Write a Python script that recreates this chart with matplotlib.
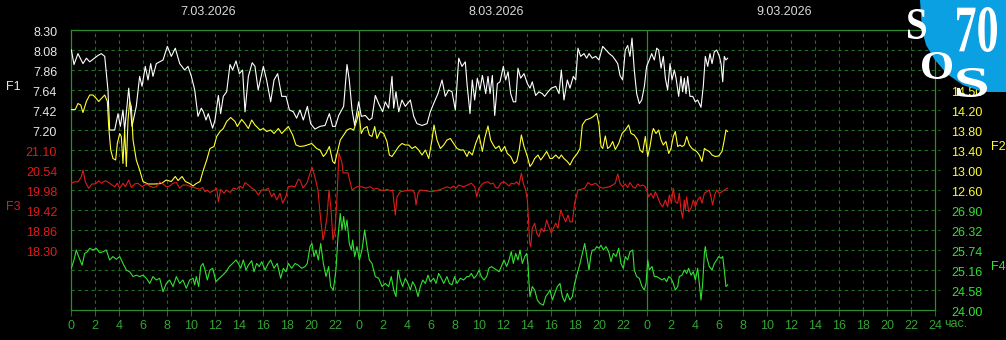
import matplotlib
matplotlib.use("Agg")
import matplotlib.pyplot as plt
from matplotlib.patches import Polygon, PathPatch
from matplotlib.textpath import TextPath
from matplotlib.font_manager import FontProperties
from matplotlib.transforms import Affine2D

# hours counted from 00:00 of 7.03.2026
t1 = [0.03, 0.25, 0.58, 1.0, 1.28, 1.56, 2.25, 2.53, 2.81, 3.08, 3.22, 3.64, 3.92, 4.11, 4.33, 4.47, 4.81, 5.08,
      5.44, 5.72, 5.92, 6.19, 6.42, 6.64, 6.83, 7.11, 7.67, 8.03, 8.36, 8.69, 9.06, 9.47, 9.75, 10.03, 10.31, 10.58,
      10.86, 11.03, 11.25, 11.44, 11.8, 12.0, 12.28, 12.47, 12.69, 12.97, 13.25, 13.47, 13.75, 14.03, 14.3, 14.5,
      14.78, 15.1, 15.33, 15.6, 16.03, 16.3, 16.64, 16.92, 17.22, 17.56, 17.92, 18.2, 18.53, 18.8, 19.08, 19.36,
      19.7, 19.97, 20.33, 20.75, 21.17, 21.53, 21.8, 22.03, 22.31, 22.72, 23.0, 23.19, 23.42, 23.64, 23.97, 24.19,
      24.53, 24.86, 25.08, 25.36, 25.64, 25.97, 26.19, 26.47, 26.75, 26.89, 27.08, 27.31, 27.58, 27.86, 28.28,
      28.56, 28.83, 29.25, 29.67, 29.94, 30.22, 30.58, 30.92, 31.19, 31.47, 31.75, 32.03, 32.31, 32.58, 32.86,
      33.0, 33.25, 33.44, 33.64, 33.86, 34.08, 34.28, 34.56, 34.75, 34.92, 35.11, 35.31, 35.53, 35.75, 36.03,
      36.22, 36.42, 36.64, 36.86, 37.06, 37.25, 37.47, 37.75, 38.03, 38.25, 38.44, 38.72, 39.0, 39.28, 39.47,
      39.75, 40.03, 40.39, 40.67, 40.86, 41.08, 41.36, 41.58, 41.86, 42.06, 42.25, 42.47, 42.75, 42.97, 43.17,
      43.44, 43.72, 44.0, 44.31, 44.58, 44.86, 45.14, 45.36, 45.56, 45.75, 45.97, 46.19, 46.39, 46.58, 46.75,
      46.94, 47.14, 47.36, 47.56, 47.78, 47.97, 48.19, 48.39, 48.61, 48.81, 48.97, 49.17, 49.36, 49.53, 49.72,
      49.92, 50.08, 50.28, 50.42, 50.64, 50.83, 50.97, 51.11, 51.25, 51.39, 51.58, 51.81, 52.03, 52.22, 52.5,
      52.69, 52.86, 53.06, 53.25, 53.42, 53.61, 53.81, 54.03, 54.17, 54.31, 54.44, 54.58, 54.72]
f1 = [8.08, 7.92, 8.04, 7.93, 7.99, 7.95, 8.02, 8.04, 8.01, 7.64, 7.20, 7.20, 7.38, 7.24, 7.42, 7.20, 7.66, 7.24,
      7.46, 7.79, 7.68, 7.90, 7.75, 7.93, 7.79, 7.93, 7.97, 8.12, 8.01, 8.10, 7.93, 7.86, 7.90, 7.79, 7.64, 7.35,
      7.44, 7.40, 7.31, 7.38, 7.22, 7.31, 7.58, 7.38, 7.57, 7.62, 7.92, 7.86, 7.96, 7.82, 7.86, 7.40,
      7.79, 7.94, 7.90, 7.64, 7.90, 7.75, 7.51, 7.75, 7.82, 7.57, 7.57, 7.42, 7.40, 7.33, 7.42, 7.31,
      7.46, 7.27, 7.21, 7.24, 7.25, 7.38, 7.24, 7.24, 7.36, 7.46, 7.92, 7.75, 7.42, 7.25, 7.51, 7.35,
      7.36, 7.31, 7.33, 7.58, 7.49, 7.40, 7.51, 7.44, 7.79, 7.44, 7.62, 7.40, 7.53, 7.46, 7.53,
      7.35, 7.27, 7.25, 7.27, 7.40, 7.49, 7.60, 7.75, 7.57, 7.64, 7.62, 7.42, 7.99, 7.90, 7.95,
      7.71, 7.38, 7.75, 7.53, 7.77, 7.64, 7.80, 7.60, 7.79, 7.60, 7.80, 7.36, 7.71, 7.73, 7.90,
      7.75, 7.84, 7.60, 7.51, 7.51, 7.88, 7.77, 7.82, 7.71, 7.66, 7.73, 7.58, 7.62, 7.60, 7.57,
      7.62, 7.66, 7.68, 7.60, 7.86, 7.53, 7.75, 7.66, 7.79, 7.75, 8.10, 8.01, 8.04, 7.99, 8.04,
      7.99, 8.01, 7.97, 8.12, 8.08, 8.04, 8.01, 7.97, 7.93, 7.80, 7.75, 8.08, 8.13, 8.01, 8.21,
      7.86, 7.60, 7.49, 7.53, 7.68, 7.90, 7.97, 8.04, 7.97, 8.10, 8.08, 7.88, 8.01, 7.77, 7.64,
      7.93, 7.75, 7.86, 7.77, 7.57, 7.79, 7.62, 7.77, 7.60, 7.79, 7.57, 7.57, 7.51, 7.53, 7.45,
      7.68, 8.01, 7.90, 8.04, 7.93, 8.06, 8.08, 8.01, 7.93, 7.73, 8.01, 7.97, 7.99]

t2 = [0.03, 0.36, 0.58, 0.81, 1.0, 1.28, 1.56, 1.83, 2.11, 2.31, 2.53, 2.81, 3.03, 3.14, 3.31, 3.5, 3.72, 3.86,
      4.06, 4.19, 4.33, 4.47, 4.61, 4.75, 4.89, 5.03, 5.17, 5.44, 5.72, 6.0, 6.42, 6.97, 7.53, 7.94, 8.36, 8.69,
      8.92, 9.25, 9.53, 9.89, 10.17, 10.44, 10.75, 11.03, 11.31, 11.58, 11.92, 12.14, 12.42, 12.69, 12.97, 13.31,
      13.67, 13.86, 14.22, 14.5, 14.78, 15.06, 15.33, 15.75, 16.03, 16.31, 16.64, 16.92, 17.28, 17.56, 17.83,
      18.11, 18.47, 18.75, 19.08, 19.42, 19.69, 20.06, 20.47, 20.75, 21.03, 21.25, 21.53, 21.81, 21.97, 22.17,
      22.44, 22.72, 23.0, 23.28, 23.56, 23.83, 23.97, 24.19, 24.39, 24.67, 24.86, 25.08, 25.31, 25.5, 25.78,
      26.06, 26.33, 26.53, 26.75, 27.03, 27.31, 27.58, 27.86, 28.14, 28.42, 28.69, 28.97, 29.25, 29.53, 29.81,
      30.08, 30.25, 30.5, 30.78, 31.06, 31.33, 31.61, 31.89, 32.17, 32.44, 32.72, 33.0, 33.17, 33.44, 33.72,
      34.0, 34.28, 34.47, 34.75, 34.97, 35.19, 35.39, 35.67, 35.86, 36.14, 36.36, 36.64, 36.92, 37.14, 37.33,
      37.53, 37.75, 38.03, 38.25, 38.44, 38.64, 38.92, 39.14, 39.36, 39.64, 39.92, 40.11, 40.39, 40.67, 40.86,
      41.08, 41.36, 41.58, 41.86, 42.19, 42.42, 42.61, 42.89, 43.25, 43.53, 43.81, 44.0, 44.17, 44.31, 44.53,
      44.72, 44.92, 45.14, 45.36, 45.64, 45.92, 46.19, 46.47, 46.67, 46.94, 47.22, 47.42, 47.64, 47.86, 48.06,
      48.25, 48.42, 48.53, 48.75, 48.97, 49.17, 49.36, 49.58, 49.81, 50.0, 50.19, 50.36, 50.56, 50.75, 50.92,
      51.11, 51.31, 51.53, 51.75, 51.94, 52.14, 52.36, 52.58, 52.78, 52.97, 53.19, 53.42, 53.69, 53.97, 54.25,
      54.44, 54.58, 54.72]
f2 = [14.21, 14.21, 14.33, 14.30, 14.15, 14.37, 14.50, 14.50, 14.43, 14.37, 14.43, 14.50, 14.37, 13.87, 13.40,
      13.23, 13.20, 13.53, 13.73, 13.67, 13.13, 13.80, 13.07, 14.00, 14.37, 14.27, 13.60, 13.20, 13.00, 12.77,
      12.72, 12.72, 12.73, 12.80, 12.77, 12.87, 12.79, 12.87, 12.77, 12.73, 12.68, 12.73, 12.77, 13.00, 13.20,
      13.43, 13.47, 13.67, 13.77, 13.83, 13.97, 14.05, 13.97, 13.87, 14.01, 13.93, 13.83, 14.00, 13.90, 13.80,
      13.83, 13.77, 13.80, 13.73, 13.83, 13.73, 13.80, 13.87, 13.70, 13.50, 13.47, 13.48, 13.50, 13.53, 13.43,
      13.40, 13.27, 13.33, 13.47, 13.17, 13.13, 13.33, 13.60, 13.70, 13.80, 13.83, 13.80, 14.00, 14.17, 13.73,
      13.83, 13.87, 13.70, 13.67, 13.87, 13.63, 13.77, 13.73, 13.57, 13.30, 13.27, 13.37, 13.47, 13.53, 13.50,
      13.50, 13.43, 13.47, 13.40, 13.30, 13.40, 13.23, 13.60, 13.90, 13.60, 13.43, 13.50, 13.60, 13.63, 13.53,
      13.43, 13.40, 13.40, 13.27, 13.37, 13.30, 13.53, 13.70, 13.37, 13.63, 13.88, 13.60, 13.50, 13.43, 13.48,
      13.37, 13.47, 13.33, 13.27, 13.13, 13.17, 13.37, 13.70, 13.47, 13.27, 13.07, 13.13, 13.23, 13.30, 13.20,
      13.27, 13.37, 13.23, 13.23, 13.30, 13.23, 13.30, 13.23, 13.17, 13.10, 13.23, 13.33, 13.43, 13.90, 14.00,
      14.03, 14.07, 14.13, 13.90, 13.47, 13.43, 13.68, 13.43, 13.47, 13.57, 13.41, 13.53, 13.73, 13.80, 13.90,
      13.73, 13.70, 13.60, 13.40, 13.35, 13.67, 13.27, 13.47, 13.73, 13.83, 13.73, 13.80, 13.60, 13.50, 13.57,
      13.33, 13.43, 13.67, 13.77, 13.47, 13.50, 13.47, 13.50, 13.67, 13.50, 13.43, 13.40, 13.37, 13.30, 13.17,
      13.43, 13.40, 13.37, 13.30, 13.27, 13.28, 13.37, 13.60, 13.80, 13.77]

t3 = [0.03, 0.31, 0.58, 0.86, 1.0, 1.19, 1.47, 1.75, 2.03, 2.31, 2.53, 2.86, 3.14, 3.42, 3.64, 3.86, 4.06, 4.33,
      4.53, 4.81, 5.03, 5.31, 5.58, 5.92, 6.28, 6.56, 6.83, 7.11, 7.39, 7.67, 7.94, 8.22, 8.5, 8.78, 9.06, 9.33,
      9.61, 10.03, 10.44, 10.75, 10.97, 11.17, 11.36, 11.58, 11.86, 12.14, 12.28, 12.47, 12.75, 12.97, 13.25,
      13.53, 13.81, 14.08, 14.31, 14.5, 14.78, 15.06, 15.33, 15.61, 15.89, 16.17, 16.44, 16.72, 16.92, 17.14,
      17.42, 17.64, 17.92, 18.11, 18.39, 18.67, 18.94, 19.08, 19.33, 19.67, 20.08, 20.33, 20.58, 20.75, 21.0,
      21.17, 21.33, 21.5, 21.67, 21.83, 22.0, 22.17, 22.33, 22.58, 22.67, 23.08, 23.42, 23.67, 23.83, 24.25,
      24.53, 24.94, 25.22, 25.5, 25.78, 26.06, 26.33, 26.61, 26.81, 26.92, 27.03, 27.17, 27.44, 27.86, 28.42,
      28.64, 28.75, 28.92, 29.11, 29.53, 30.08, 30.64, 31.06, 31.33, 31.61, 31.89, 32.08, 32.31, 32.72, 33.03,
      33.36, 33.64, 33.81, 34.0, 34.28, 34.47, 34.75, 34.97, 35.19, 35.39, 35.58, 35.81, 36.08, 36.31, 36.5,
      36.69, 36.92, 37.14, 37.33, 37.53, 37.69, 37.89, 38.03, 38.14, 38.22, 38.31, 38.44, 38.64, 38.81, 39.0,
      39.19, 39.42, 39.64, 39.83, 40.03, 40.19, 40.39, 40.58, 40.81, 41.03, 41.22, 41.42, 41.58, 41.78, 41.97,
      42.25, 42.53, 42.81, 43.08, 43.36, 43.72, 44.03, 44.31, 44.58, 44.86, 45.14, 45.36, 45.56, 45.75, 45.97,
      46.19, 46.39, 46.58, 46.81, 47.03, 47.22, 47.42, 47.64, 47.86, 47.97, 48.14, 48.33, 48.53, 48.69, 48.89,
      49.08, 49.31, 49.53, 49.72, 49.86, 50.03, 50.19, 50.36, 50.56, 50.69, 50.83, 50.97, 51.11, 51.19, 51.31,
      51.47, 51.67, 51.86, 52.03, 52.22, 52.42, 52.58, 52.78, 52.97, 53.19, 53.33, 53.47, 53.64, 53.81, 54.03,
      54.25, 54.53, 54.72]
f3 = [20.17, 20.21, 20.21, 20.35, 20.54, 20.21, 20.03, 20.15, 20.15, 20.24, 20.17, 20.24, 20.19, 20.12, 20.07,
      20.17, 20.03, 20.17, 20.07, 20.26, 20.05, 20.15, 20.17, 20.07, 20.15, 20.09, 20.05, 20.07, 20.21, 20.15,
      20.07, 20.09, 20.17, 20.19, 20.03, 20.12, 20.12, 20.07, 20.03, 20.00, 20.05, 19.93, 19.98, 19.91, 19.96,
      20.03, 19.65, 20.00, 19.89, 19.98, 19.91, 20.03, 20.00, 20.09, 20.03, 20.19, 20.12, 20.03, 19.98, 19.84,
      19.98, 19.98, 20.03, 19.79, 19.89, 19.70, 19.89, 19.61, 19.81, 20.07, 20.09, 20.07, 20.28, 20.26, 20.04,
      20.18, 20.62, 20.34, 19.98, 19.34, 18.58, 18.86, 19.22, 19.98, 19.42, 18.58, 18.86, 19.78, 21.02, 20.74,
      20.46, 20.46, 19.98, 20.04, 20.07, 20.07, 20.03, 20.07, 20.00, 20.03, 19.98, 19.96, 20.00, 19.96, 19.98,
      19.61, 19.28, 19.79, 19.93, 19.96, 19.98, 19.89, 19.56, 19.89, 19.98, 19.96, 19.93, 19.98, 20.03, 20.07,
      20.03, 20.09, 20.03, 20.12, 20.07, 20.12, 20.17, 20.07, 19.79, 20.03, 20.15, 20.19, 20.21, 20.15, 20.17,
      20.05, 20.03, 20.17, 20.21, 20.15, 20.09, 20.17, 20.15, 20.21, 20.12, 20.45, 20.17, 19.98, 19.70, 19.05,
      18.49, 18.39, 18.91, 19.05, 18.77, 18.67, 18.91, 18.81, 19.14, 18.95, 18.77, 18.91, 19.05, 18.91, 19.42,
      19.23, 19.09, 19.28, 19.09, 19.09, 19.61, 19.98, 20.00, 20.03, 20.19, 20.12, 20.17, 20.07, 20.03, 20.05,
      20.07, 20.12, 20.17, 20.43, 20.17, 20.07, 20.15, 20.05, 20.19, 20.07, 20.03, 20.15, 20.09, 20.12, 20.07,
      19.98, 19.79, 19.89, 19.75, 19.93, 19.79, 19.61, 19.51, 19.70, 19.51, 19.84, 19.61, 20.03, 19.65, 19.61,
      19.89, 19.42, 19.19, 19.70, 19.42, 19.79, 19.37, 19.47, 19.70, 19.51, 19.70, 19.79, 19.61, 19.89, 19.93,
      19.98, 19.79, 19.56, 19.84, 19.98, 19.89, 19.93, 20.00, 20.03]

t4 = [0.03, 0.25, 0.44, 0.64, 0.92, 1.14, 1.36, 1.56, 1.83, 2.11, 2.39, 2.67, 2.94, 3.22, 3.5, 3.78, 4.06, 4.33,
      4.61, 4.89, 5.17, 5.44, 5.72, 6.0, 6.28, 6.56, 6.83, 7.11, 7.39, 7.67, 7.94, 8.22, 8.5, 8.78, 9.06, 9.33,
      9.61, 9.89, 10.17, 10.31, 10.44, 10.64, 10.81, 11.0, 11.17, 11.36, 11.58, 11.81, 12.08, 12.36, 12.64,
      12.92, 13.19, 13.47, 13.75, 13.94, 14.14, 14.36, 14.58, 14.78, 15.06, 15.25, 15.47, 15.69, 15.89, 16.17,
      16.44, 16.64, 16.92, 17.19, 17.47, 17.69, 17.92, 18.11, 18.39, 18.67, 18.94, 19.22, 19.5, 19.69, 19.92,
      20.08, 20.25, 20.42, 20.61, 20.81, 21.03, 21.25, 21.47, 21.64, 21.86, 22.08, 22.25, 22.44, 22.58, 22.72,
      22.86, 23.0, 23.19, 23.36, 23.47, 23.64, 23.83, 24.03, 24.25, 24.47, 24.67, 24.86, 25.08, 25.36, 25.64,
      25.92, 26.19, 26.47, 26.69, 26.89, 27.08, 27.25, 27.44, 27.64, 27.86, 28.08, 28.28, 28.47, 28.69, 28.92,
      29.11, 29.31, 29.53, 29.75, 29.94, 30.22, 30.42, 30.64, 30.86, 31.06, 31.33, 31.53, 31.75, 31.97, 32.17,
      32.44, 32.72, 33.0, 33.17, 33.36, 33.58, 33.81, 34.0, 34.19, 34.42, 34.64, 34.83, 35.03, 35.25, 35.47,
      35.67, 35.86, 36.08, 36.31, 36.5, 36.69, 36.86, 37.06, 37.25, 37.42, 37.61, 37.81, 37.97, 38.08, 38.17,
      38.25, 38.44, 38.64, 38.86, 39.08, 39.36, 39.56, 39.75, 39.92, 40.11, 40.31, 40.53, 40.75, 40.94, 41.14,
      41.36, 41.58, 41.78, 41.97, 42.19, 42.42, 42.61, 42.81, 43.03, 43.17, 43.31, 43.44, 43.64, 43.81, 44.0,
      44.17, 44.36, 44.58, 44.81, 45.0, 45.19, 45.42, 45.64, 45.83, 46.03, 46.19, 46.39, 46.58, 46.81, 46.94,
      47.14, 47.36, 47.58, 47.78, 47.92, 48.06, 48.19, 48.42, 48.61, 48.81, 49.03, 49.25, 49.44, 49.64, 49.81,
      50.0, 50.19, 50.36, 50.56, 50.69, 50.92, 51.11, 51.31, 51.47, 51.67, 51.86, 52.03, 52.22, 52.36, 52.5,
      52.64, 52.78, 52.86, 52.97, 53.19, 53.42, 53.61, 53.81, 53.97, 54.17, 54.31, 54.44, 54.58, 54.72]
f4 = [25.21, 25.45, 25.74, 25.55, 25.30, 25.64, 25.69, 25.79, 25.74, 25.79, 25.66, 25.69, 25.74, 25.45, 25.55,
      25.47, 25.55, 25.35, 25.16, 25.11, 24.97, 25.01, 24.97, 25.01, 24.92, 24.77, 24.97, 24.87, 24.92, 24.53,
      24.77, 24.87, 24.68, 24.97, 24.77, 24.87, 24.63, 24.87, 24.92, 24.73, 24.97, 24.68, 25.26, 25.35, 25.16,
      24.87, 25.16, 25.21, 24.82, 24.92, 25.01, 25.11, 25.26, 25.35, 25.45, 25.35, 25.21, 25.45, 25.16, 25.30,
      25.43, 25.11, 25.35, 25.26, 25.40, 25.16, 25.35, 25.45, 25.21, 25.35, 24.92, 25.21, 25.11, 25.35, 25.21,
      25.35, 25.30, 25.21, 25.26, 25.35, 25.84, 25.93, 25.55, 25.74, 25.45, 25.93, 25.35, 24.97, 25.26, 24.68,
      24.58, 25.16, 26.13, 26.80, 26.32, 26.71, 26.32, 26.61, 25.93, 25.74, 26.03, 25.55, 25.84, 25.45, 25.74,
      26.32, 25.84, 25.45, 25.35, 24.97, 24.92, 24.68, 24.77, 24.68, 24.97, 24.58, 24.39, 25.16, 24.87, 24.68,
      24.92, 24.77, 24.58, 24.82, 24.68, 24.39, 24.68, 24.87, 24.77, 25.01, 24.82, 24.92, 24.77, 25.06, 24.92,
      24.77, 24.97, 24.77, 24.73, 24.97, 24.77, 24.92, 24.87, 24.97, 24.97, 25.06, 24.92, 25.01, 25.16, 24.97,
      24.87, 24.97, 25.21, 25.26, 25.21, 25.16, 25.11, 25.26, 25.45, 25.26, 25.45, 25.69, 25.35, 25.64, 25.45,
      25.74, 25.35, 25.55, 25.64, 25.35, 24.77, 24.39, 24.68, 24.58, 24.29, 24.19, 24.14, 24.39, 24.48, 24.58,
      24.29, 24.48, 24.68, 24.77, 24.39, 24.24, 24.48, 24.29, 24.39, 24.77, 25.06, 25.35, 25.64, 25.93, 25.45,
      25.16, 25.55, 25.74, 25.74, 25.84, 25.79, 25.88, 25.74, 25.84, 25.69, 25.40, 25.64, 25.55, 25.79, 25.35,
      25.21, 25.55, 25.45, 25.69, 25.74, 25.16, 24.97, 24.92, 24.68, 24.58, 24.77, 25.45, 25.16, 25.26, 24.97,
      24.97, 24.92, 24.87, 24.92, 24.82, 24.97, 24.92, 24.77, 24.58, 24.68, 24.97, 25.01, 25.16, 25.06, 25.21,
      25.01, 25.11, 24.87, 25.21, 24.77, 24.29, 24.77, 25.64, 25.84, 25.55, 25.26, 25.16, 25.35, 25.45, 25.55,
      25.50, 25.55, 25.16, 24.68, 24.73]

# tick labels (text as printed on the chart)
f1_ticks = ['8.30', '8.08', '7.86', '7.64', '7.42', '7.20']
f3_ticks = ['21.10', '20.54', '19.98', '19.42', '18.86', '18.30']
f2_ticks = ['14.50', '14.20', '13.80', '13.40', '13.00', '12.60']
f4_ticks = ['26.90', '26.32', '25.74', '25.16', '24.58', '24.00']
dates = ['7.03.2026', '8.03.2026', '9.03.2026']
hour_ticks = list(range(0, 73, 2))
hour_labels = [str(h % 24) for h in hour_ticks[:-1]] + ['24']

W, H = 1006, 340
plt.rcParams['font.family'] = ['Liberation Sans Narrow', 'Liberation Sans', 'DejaVu Sans']
fig = plt.figure(figsize=(W / 100, H / 100), dpi=100, facecolor='black')

grid_col = '#1f6e1f'
line_col = '#2e8a2e'
txt_green = '#36a336'
c1, c2, c3, c4 = '#ffffff', '#ffff30', '#dd1c1c', '#33e033'

rect = [71 / W, 1 - 310 / H, 864 / W, 280 / H]
base = fig.add_axes(rect, facecolor='black')
base.set_xlim(0, 72)
base.set_ylim(0, 14)
for s in base.spines.values():
    s.set_color(line_col)
    s.set_linewidth(0.9)

# grid: 14 rows of 20 px, vertical line every 2 hours, solid at midnight
for r in range(1, 14):
    base.plot([0, 72.4], [r, r], color=grid_col, lw=0.8, ls=(0, (3, 3)), clip_on=False)
for h in hour_ticks[1:-1]:
    if h % 24 == 0:
        base.axvline(h, color=line_col, lw=0.9)
    else:
        base.axvline(h, color=grid_col, lw=0.8, ls=(0, (3, 3)))

base.set_yticks([])
base.set_xticks(hour_ticks)
base.set_xticklabels(hour_labels)
base.tick_params(axis='x', colors=grid_col, labelcolor=txt_green, length=4, width=0.8, pad=3, labelsize=9)
fig.text(944 / W, 1 - 324 / H, 'час.', color=txt_green, fontsize=9, va='center', ha='left')

# one y scale per channel (20 px per row)
lims = [(5.22, 8.30), (10.20, 15.80), (16.62, 24.46), (24.00, 32.12)]
axs = []
for lo, hi in lims:
    a = base.twinx()
    a.set_ylim(lo, hi)
    a.axis('off')
    axs.append(a)
axs[3].plot(t4, f4, color=c4, lw=0.8)
axs[2].plot(t3, f3, color=c3, lw=0.8)
axs[1].plot(t2, f2, color=c2, lw=0.8)
axs[0].plot(t1, f1, color=c1, lw=0.8)

yt = base.get_yaxis_transform()
for i, lab in enumerate(f1_ticks):
    base.text(-0.016, 14 - i - 0.17, lab, transform=yt, color='#e8e8e8', fontsize=9, ha='right', va='center')
for i, lab in enumerate(f3_ticks):
    base.text(-0.016, 8 - i - 0.17, lab, transform=yt, color=c3, fontsize=9, ha='right', va='center')
for i, lab in enumerate(f2_ticks):
    base.text(1.0185, 11 - i - 0.17, lab, transform=yt, color=c2, fontsize=9, ha='left', va='center')
for i, lab in enumerate(f4_ticks):
    base.text(1.0185, 5 - i - 0.17, lab, transform=yt, color=c4, fontsize=9, ha='left', va='center')

fig.text(6 / W, 1 - 87 / H, 'F1', color='#e8e8e8', fontsize=9, va='center')
fig.text(6 / W, 1 - 207 / H, 'F3', color=c3, fontsize=9, va='center')
fig.text(991 / W, 1 - 147 / H, 'F2', color=c2, fontsize=9, va='center')
fig.text(991 / W, 1 - 267 / H, 'F4', color=c4, fontsize=9, va='center')

for k, d in enumerate(dates):
    base.text(24 * k + 11.4, 1 + 18 / 280, d, transform=base.get_xaxis_transform(),
              color='#d8d8d8', fontsize=9, ha='center', va='center')

# logo in the top right corner
pts = [(920, 0), (1006, 0), (1006, 92), (983, 92), (963, 85), (947, 74), (935, 60), (926, 45), (922, 30)]
fig.add_artist(Polygon([(x / W, 1 - y / H) for x, y in pts], closed=True, transform=fig.transFigure,
                       facecolor='#0aa0e2', edgecolor='none', zorder=10))
serif = FontProperties(family='Liberation Serif', weight='bold')


def logo_text(s, x0, y0, x1, y1):
    p = TextPath((0, 0), s, prop=serif, size=50)
    e = p.get_extents()
    tr = Affine2D().translate(-e.x0, -e.y0).scale((x1 - x0) / e.width / W, (y1 - y0) / e.height / H)
    tr = tr.translate(x0 / W, 1 - y1 / H)
    fig.add_artist(PathPatch(tr.transform_path(p), transform=fig.transFigure,
                             facecolor='white', edgecolor='none', zorder=11))


logo_text('S', 908, 9, 926, 39)
logo_text('70', 957, 7, 997, 52)
logo_text('O', 922, 52, 952, 79)
logo_text('S', 957, 68, 987, 97)

fig.savefig('out.png', dpi=100, facecolor='black')
